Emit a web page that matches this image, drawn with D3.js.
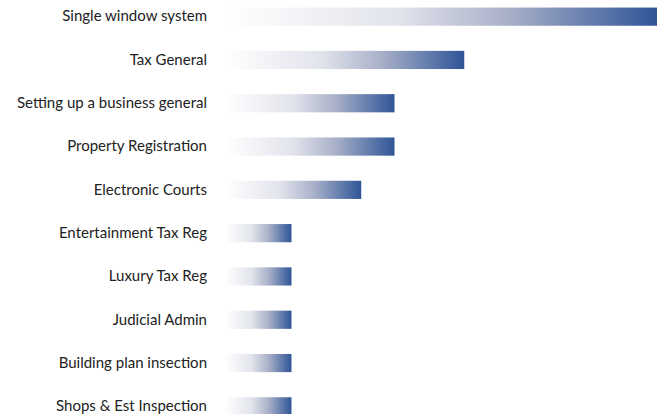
<!DOCTYPE html>
<html>
<head>
<meta charset="utf-8">
<script src="https://cdn.jsdelivr.net/npm/d3@7"></script>
<style>
  html, body { margin: 0; padding: 0; background: #fff; overflow: hidden; }
  text { font-family: Lato, "Open Sans", sans-serif; }
</style>
</head>
<body>
<div id="chart"></div>
<script>
const width = 658;
const height = 414;

// Categories and values
const categories = [
    "Single window system",
    "Tax General",
    "Setting up a business general",
    "Property Registration",
    "Electronic Courts",
    "Entertainment Tax Reg",
    "Luxury Tax Reg",
    "Judicial Admin",
    "Building plan insection",
    "Shops & Est Inspection"
];
const values = [13, 7.2, 5.1, 5.1, 4.1, 2, 2, 2, 2, 2];

const data = categories.map((c, i) => ({ name: c, value: values[i] }));

const xScale = d3.scaleLinear()
    .domain([0, 13])
    .range([225, 657]);

// band range runs slightly past the bottom, the last bar is clipped
const yScale = d3.scaleBand()
    .domain(categories)
    .range([-5, 428])
    .paddingInner(0.58)
    .paddingOuter(0.29);

const svg = d3.select("#chart")
    .append("svg")
    .attr("width", width)
    .attr("height", height);

// white -> blue gradient per bar
const grad = svg.append("defs")
    .append("linearGradient")
    .attr("id", "barGrad")
    .attr("x1", "0%").attr("x2", "100%")
    .attr("y1", "0%").attr("y2", "0%");
grad.selectAll("stop")
    .data([
        { o: "0%", c: "#ffffff" },
        { o: "40%", c: "#e2e4ec" },
        { o: "65%", c: "#aab1c9" },
        { o: "100%", c: "#2f5597" }
    ])
    .join("stop")
    .attr("offset", d => d.o)
    .attr("stop-color", d => d.c);

svg.append("g")
    .selectAll("rect")
    .data(data)
    .join("rect")
    .attr("x", xScale(0))
    .attr("y", d => yScale(d.name))
    .attr("width", d => xScale(d.value) - xScale(0))
    .attr("height", yScale.bandwidth())
    .attr("fill", "url(#barGrad)");

// category labels
const yAxis = d3.axisLeft(yScale).tickSize(0).tickPadding(0);
const ax = svg.append("g")
    .attr("transform", `translate(207,0)`)
    .call(yAxis);
ax.select(".domain").remove();
ax.selectAll("text")
    .attr("font-size", 15)
    .attr("font-family", "Lato, 'Open Sans', sans-serif")
    .attr("fill", "#222");
</script>
</body>
</html>
